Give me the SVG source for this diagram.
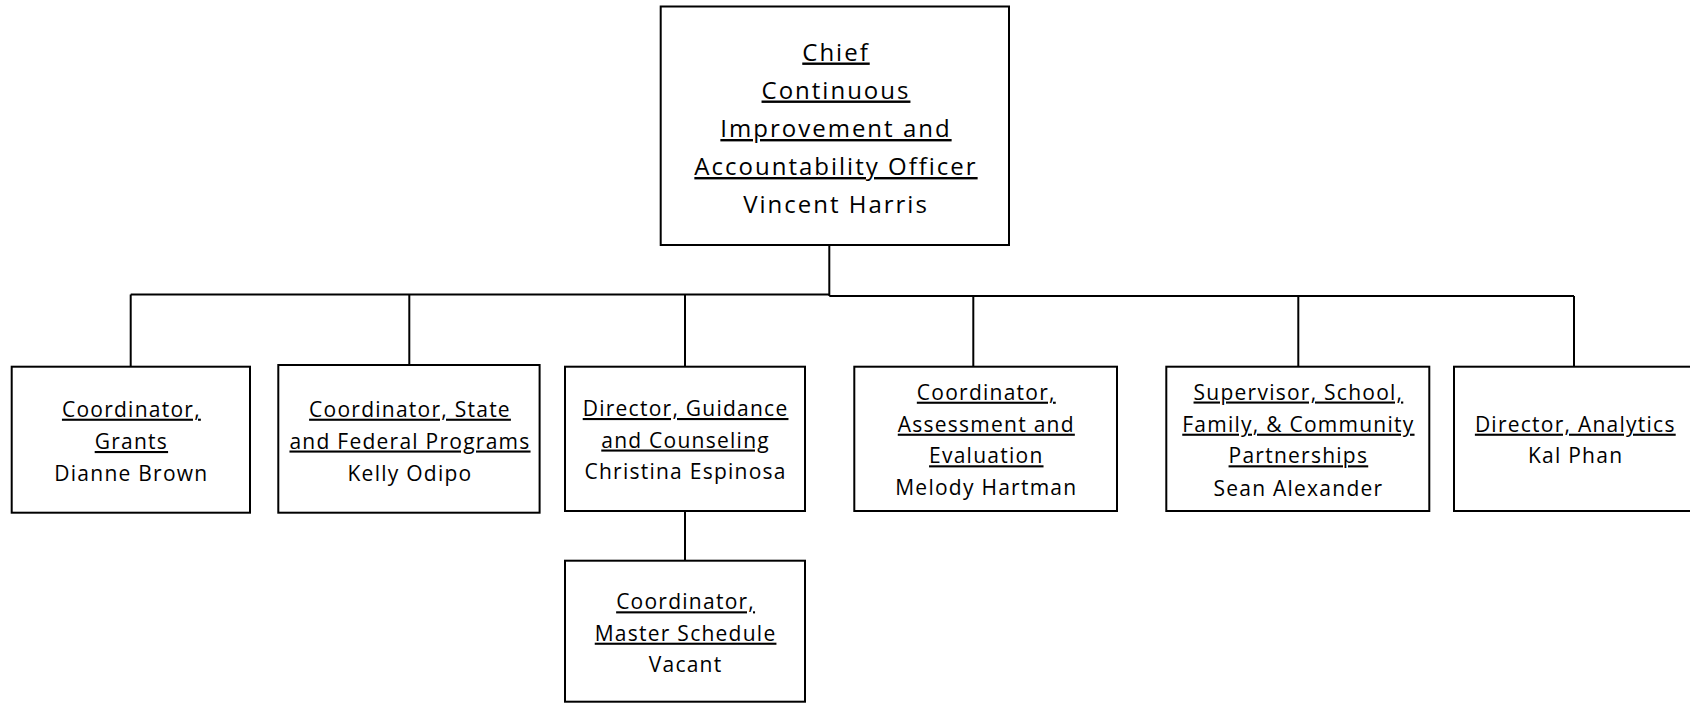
<svg xmlns="http://www.w3.org/2000/svg" width="1690" height="703" viewBox="0 0 1690 703">
<style>
.box{fill:#fff;stroke:#000;stroke-width:2}
.ln{fill:none;stroke:#000;stroke-width:2}
text{font-family:"Open Sans","Noto Sans","Liberation Sans",sans-serif;fill:#000;text-anchor:middle}
.t{font-size:24px;letter-spacing:2px}
.s{font-size:21px;letter-spacing:1.25px}
.u{text-decoration:underline}
</style>
<rect x="0" y="0" width="1690" height="703" fill="#fff"/>
<g id="connectors">
<path class="ln" d="M829.3 245 V296"/>
<path class="ln" d="M130.7 294.5 H829.3"/>
<path class="ln" d="M829.3 296 H1574"/>
<path class="ln" d="M130.7 294.5 V366.7"/>
<path class="ln" d="M409.3 294.5 V365"/>
<path class="ln" d="M685 294.5 V366.7"/>
<path class="ln" d="M973.3 296 V366.7"/>
<path class="ln" d="M1298.3 296 V366.7"/>
<path class="ln" d="M1574 296 V366.7"/>
<path class="ln" d="M685 511 V560.7"/>
</g>
<g id="chief">
<rect class="box" x="660.7" y="6.5" width="348.3" height="238.5"/>
<text class="t u" x="836" y="60.5">Chief</text>
<text class="t u" x="836" y="98.5">Continuous</text>
<text class="t u" x="836" y="137">Improvement and</text>
<text class="t u" x="836" y="175">Accountability Officer</text>
<text class="t" x="836" y="213">Vincent Harris</text>
</g>
<g id="grants">
<rect class="box" x="11.7" y="366.7" width="238.3" height="146"/>
<text class="s u" x="131.4" y="416.7">Coordinator,</text>
<text class="s u" x="131.4" y="449">Grants</text>
<text class="s" x="131.4" y="481">Dianne Brown</text>
</g>
<g id="state-federal">
<rect class="box" x="278.3" y="365" width="261.3" height="147.7"/>
<text class="s u" x="410" y="416.7">Coordinator, State</text>
<text class="s u" x="410" y="448.5">and Federal Programs</text>
<text class="s" x="410" y="481">Kelly Odipo</text>
</g>
<g id="guidance">
<rect class="box" x="565" y="366.7" width="240" height="144.3"/>
<text class="s u" x="685.6" y="416">Director, Guidance</text>
<text class="s u" x="685.6" y="447.5">and Counseling</text>
<text class="s" x="685.6" y="478.5">Christina Espinosa</text>
</g>
<g id="assessment">
<rect class="box" x="854.3" y="366.7" width="262.7" height="144.3"/>
<text class="s u" x="986.3" y="399.7">Coordinator,</text>
<text class="s u" x="986.3" y="431.7">Assessment and</text>
<text class="s u" x="986.3" y="463.3">Evaluation</text>
<text class="s" x="986.3" y="495">Melody Hartman</text>
</g>
<g id="partnerships">
<rect class="box" x="1166.3" y="366.7" width="263" height="144.3"/>
<text class="s u" x="1298.4" y="399.5">Supervisor, School,</text>
<text class="s u" x="1298.4" y="431.7">Family, &amp; Community</text>
<text class="s u" x="1298.4" y="463.3">Partnerships</text>
<text class="s" x="1298.4" y="495.5">Sean Alexander</text>
</g>
<g id="analytics">
<rect class="box" x="1454" y="366.7" width="242" height="144.3"/>
<text class="s u" x="1575.3" y="431.7">Director, Analytics</text>
<text class="s" x="1575.6" y="463.3">Kal Phan</text>
</g>
<g id="master-schedule">
<rect class="box" x="565" y="560.7" width="240" height="141"/>
<text class="s u" x="685.6" y="609.3">Coordinator,</text>
<text class="s u" x="685.6" y="640.7">Master Schedule</text>
<text class="s" x="685.6" y="671.7">Vacant</text>
</g>
</svg>
